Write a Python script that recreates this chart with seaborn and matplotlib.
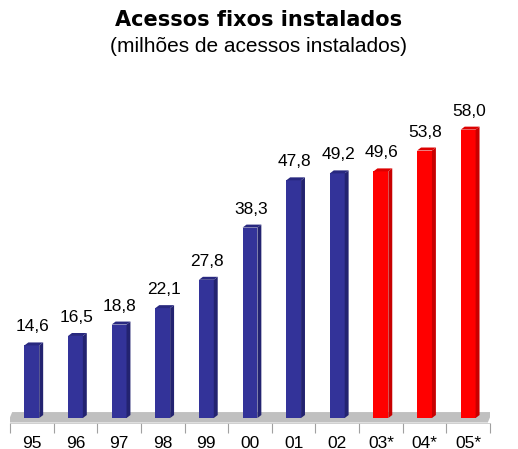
import matplotlib
matplotlib.use("Agg")
import matplotlib.pyplot as plt
from matplotlib.patches import Polygon
import seaborn as sns
import pandas as pd

years = ["95", "96", "97", "98", "99", "00", "01", "02", "03*", "04*", "05*"]
values = [14.6, 16.5, 18.8, 22.1, 27.8, 38.3, 47.8, 49.2, 49.6, 53.8, 58.0]
kind = ["real"] * 8 + ["proj"] * 3
labels = ["14,6", "16,5", "18,8", "22,1", "27,8", "38,3", "47,8", "49,2", "49,6", "53,8", "58,0"]

front = {"real": "#333399", "proj": "#FF0000"}
side = {"real": "#232370", "proj": "#C80000"}
topc = {"real": "#28287F", "proj": "#DD0000"}

df = pd.DataFrame({"ano": years, "valor": values, "tipo": kind})

sns.set_style("white")
plt.rcParams["font.family"] = ["Liberation Sans", "DejaVu Sans"]
plt.rcParams["text.color"] = "black"
plt.rcParams["xtick.color"] = "black"

fig = plt.figure(figsize=(5.18, 4.49), dpi=100)
ax = fig.add_axes([10 / 518, 1 - 423 / 449, 480 / 518, 363 / 449])

# floor
floor = Polygon([(-0.55, -0.9), (10.45, -0.9), (10.55, 1.2), (-0.45, 1.2)],
                closed=True, facecolor="#C0C0C0", edgecolor="none", zorder=0)
ax.add_patch(floor)

sns.barplot(data=df, x="ano", y="valor", hue="tipo", palette=front, dodge=False,
            width=0.34, legend=False, ax=ax, saturation=1, zorder=2)

bars = [p for p in ax.patches if p is not floor and p.get_height() > 0]
bars.sort(key=lambda p: p.get_x())
dx, dy = 0.09, 0.6
for p, k in zip(bars, kind):
    x0 = p.get_x()
    x1 = x0 + p.get_width()
    h = p.get_height()
    p.set_edgecolor("none")
    ax.add_patch(Polygon([(x1, 0), (x1 + dx, dy), (x1 + dx, h + dy), (x1, h)],
                         closed=True, facecolor=side[k], edgecolor="none", zorder=3))
    ax.add_patch(Polygon([(x0, h), (x1, h), (x1 + dx, h + dy), (x0 + dx, h + dy)],
                         closed=True, facecolor=topc[k], edgecolor="none", zorder=3))

for i, (v, t) in enumerate(zip(values, labels)):
    ax.text(i + 0.02, v + 2.2, t, ha="center", va="bottom", fontsize=12.5, color="black")

ax.set_xlim(-0.5, 10.5)
ax.set_ylim(-1, 72)
ax.set_xlabel("")
ax.set_ylabel("")
ax.set_yticks([])
ax.set_xticks(range(len(years)))
ax.set_xticklabels(years, fontsize=12.5, color="black")
ax.set_xticks([i - 0.5 for i in range(len(years) + 1)], minor=True)
ax.tick_params(axis="x", which="major", length=0, pad=9)
ax.tick_params(axis="x", which="minor", length=7, width=0.8, color="#A0A0A0", direction="out")
ax.tick_params(axis="x", bottom=True, which="minor")
for s in ["top", "right", "left"]:
    ax.spines[s].set_visible(False)
ax.spines["bottom"].set_color("#C8C8C8")
ax.spines["bottom"].set_linewidth(0.6)

fig.text(0.5, 1 - 20 / 449, "Acessos fixos instalados", ha="center", va="center",
         fontsize=15, fontweight="bold", family=["DejaVu Sans"], color="black")
fig.text(0.5, 1 - 46 / 449, "(milhões de acessos instalados)", ha="center", va="center",
         fontsize=15, color="black")

fig.savefig("out.png", dpi=100)
